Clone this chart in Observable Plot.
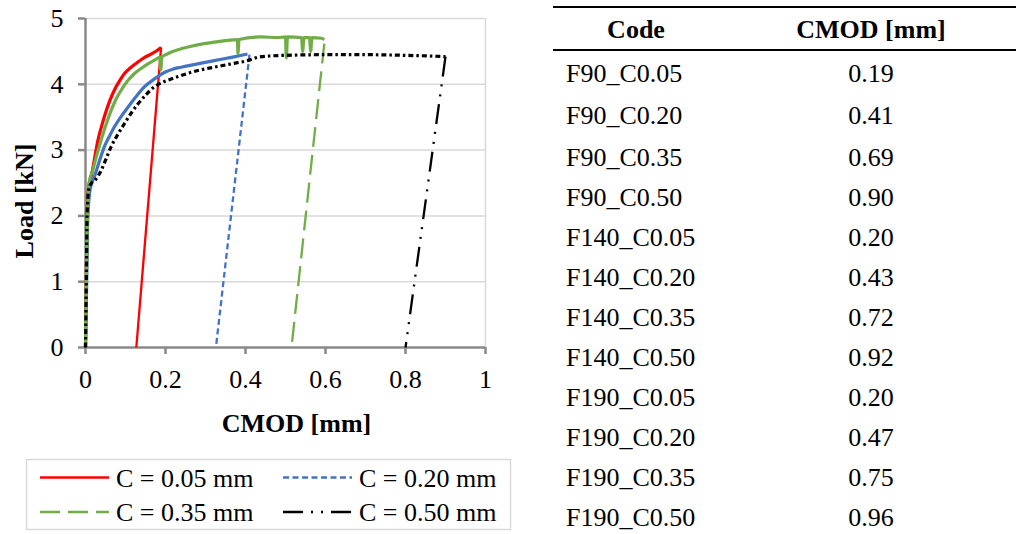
<!DOCTYPE html>
<html>
<head>
<meta charset="utf-8">
<script src="https://cdn.jsdelivr.net/npm/d3@7"></script>
<script src="https://cdn.jsdelivr.net/npm/@observablehq/plot@0.6"></script>
<style>
  html, body { margin: 0; padding: 0; background: #fff; }
  #page { position: relative; width: 1016px; height: 534px; overflow: hidden; font-family: "Liberation Serif", "Times New Roman", serif; color: #000; }
  #chart { position: absolute; left: 0; top: 0; }
  #legend { position: absolute; left: 0; top: 440px; }
  #table { position: absolute; left: 0; top: 0; width: 1016px; height: 534px; }
  .hline { position: absolute; background: #000; }
  .cell { position: absolute; font-size: 26px; line-height: 30px; white-space: nowrap; }
  .hdr { font-weight: bold; }
</style>
</head>
<body>
<div id="page">
  <div id="chart"></div>
  <div id="legend"></div>
  <div id="table"></div>
</div>
<script>
// ---------- DATA ----------
const xTicks = [0, 0.2, 0.4, 0.6, 0.8, 1];
const yTicks = [0, 1, 2, 3, 4, 5];
const seriesLabels = ["C = 0.05 mm", "C = 0.20 mm", "C = 0.35 mm", "C = 0.50 mm"];

// loading branches [CMOD mm, Load kN]
const loadC005 = [[0,0],[0.002,1],[0.004,2],[0.008,2.45],[0.014,2.59],[0.022,2.85],[0.031,3.15],[0.041,3.38],[0.052,3.6],[0.062,3.77],[0.072,3.91],[0.084,4.04],[0.097,4.16],[0.114,4.26],[0.131,4.34],[0.148,4.41],[0.164,4.46],[0.178,4.51],[0.189,4.56]];
const loadC020 = [[0,0],[0.003,1],[0.006,2],[0.012,2.42],[0.022,2.59],[0.034,2.82],[0.047,3.05],[0.059,3.2],[0.072,3.35],[0.088,3.5],[0.106,3.65],[0.126,3.81],[0.147,3.96],[0.172,4.08],[0.197,4.18],[0.218,4.23],[0.239,4.26],[0.28,4.31],[0.322,4.36],[0.365,4.41],[0.405,4.46]];
const loadC035 = [[0,0],[0.002,1],[0.005,2],[0.009,2.5],[0.018,2.69],[0.028,2.92],[0.039,3.15],[0.051,3.38],[0.064,3.6],[0.076,3.77],[0.089,3.91],[0.105,4.05],[0.122,4.16],[0.139,4.24],[0.156,4.31],[0.176,4.38],[0.186,4.41],[0.188,4.22],[0.191,4.42],[0.197,4.44],[0.218,4.5],[0.239,4.54],[0.28,4.6],[0.322,4.64],[0.38,4.68],[0.381,4.47],[0.384,4.68],[0.439,4.72],[0.48,4.71],[0.5,4.72],[0.502,4.4],[0.505,4.72],[0.54,4.71],[0.543,4.5],[0.546,4.71],[0.56,4.71],[0.563,4.5],[0.566,4.71],[0.59,4.7],[0.597,4.68]];
const loadC050 = [[0,0],[0.002,1],[0.004,2],[0.008,2.4],[0.014,2.49],[0.025,2.55],[0.039,2.69],[0.051,2.86],[0.064,3.05],[0.08,3.23],[0.097,3.4],[0.114,3.56],[0.131,3.7],[0.151,3.84],[0.172,3.96],[0.192,4.03],[0.214,4.08],[0.247,4.15],[0.281,4.21],[0.322,4.26],[0.364,4.31],[0.405,4.36],[0.43,4.41],[0.46,4.43],[0.5,4.44],[0.6,4.45],[0.7,4.45],[0.8,4.44],[0.86,4.43],[0.9,4.42]];

// unloading branches
const unloadC005 = [[0.189,4.56],[0.127,0]];
const unloadC020 = [[0.41,4.45],[0.326,0]];
const unloadC035 = [[0.597,4.62],[0.515,0]];
const unloadC050 = [[0.9,4.42],[0.8,0]];

// table
const tableHeader = ["Code", "CMOD [mm]"];
const tableCodes = ["F90_C0.05","F90_C0.20","F90_C0.35","F90_C0.50","F140_C0.05","F140_C0.20","F140_C0.35","F140_C0.50","F190_C0.05","F190_C0.20","F190_C0.35","F190_C0.50"];
const tableCmod = ["0.19","0.41","0.69","0.90","0.20","0.43","0.72","0.92","0.20","0.47","0.75","0.96"];

// ---------- STYLES ----------
const colors = ["#ff0000", "#4472c4", "#70ad47", "#000000"];
const dashes = [null, "6,3.5", "20,8", "20,8,2,8,2,8"];
const loadDashes = [null, null, null, "5,3,2.5,3"];
const loads = [loadC005, loadC020, loadC035, loadC050];
const unloads = [unloadC005, unloadC020, unloadC035, unloadC050];

const FONT = "Liberation Serif, Times New Roman, serif";
const axisGray = "#898989";
const gridGray = "#d9d9d9";

const lineMarks = [];
loads.forEach((pts, i) => {
  lineMarks.push(Plot.line(unloads[i], {x: d => d[0], y: d => d[1], stroke: colors[i], strokeWidth: 2.3, strokeDasharray: dashes[i], strokeLinecap: "butt"}));
});
loads.forEach((pts, i) => {
  lineMarks.push(Plot.line(pts, {x: d => d[0], y: d => d[1], stroke: colors[i], strokeWidth: 3.2, strokeDasharray: loadDashes[i], strokeLinecap: "butt", strokeLinejoin: "round", curve: "monotone-x"}));
});

const chart = Plot.plot({
  width: 520,
  height: 440,
  marginLeft: 85,
  marginRight: 35,
  marginTop: 18,
  marginBottom: 93,
  style: {fontFamily: FONT, fontSize: "26px", color: "#000", background: "transparent"},
  x: {domain: [0, 1]},
  y: {domain: [0, 5]},
  marks: [
    Plot.ruleY(yTicks.filter(d => d > 0), {stroke: gridGray, strokeWidth: 1.5}),
    Plot.ruleX([1], {stroke: gridGray, strokeWidth: 1.5}),
    Plot.ruleX([0], {stroke: axisGray, strokeWidth: 2.5}),
    Plot.ruleY([0], {stroke: axisGray, strokeWidth: 2.5}),
    Plot.axisX({ticks: xTicks, tickFormat: d => String(d), tickSize: 7, tickPadding: 15, stroke: axisGray, strokeWidth: 2.5, fill: "#000", fontSize: 26, label: null}),
    Plot.axisY({ticks: yTicks, tickFormat: d => String(d), tickSize: 7, tickPadding: 15, stroke: axisGray, strokeWidth: 2.5, fill: "#000", fontSize: 26, label: null}),
    ...lineMarks,
    Plot.text(["CMOD [mm]"], {frameAnchor: "bottom", dx: 11, dy: 76, fontWeight: "bold", fontSize: 26, fill: "#000", lineAnchor: "middle"}),
    Plot.text(["Load [kN]"], {frameAnchor: "left", dx: -61, dy: 18, rotate: -90, fontWeight: "bold", fontSize: 26, fill: "#000", lineAnchor: "middle", textAnchor: "middle"})
  ]
});
document.getElementById("chart").appendChild(chart);

// ---------- LEGEND ----------
const lg = d3.select("#legend").append("svg").attr("width", 520).attr("height", 94)
  .style("font-family", FONT);
lg.append("rect").attr("x", 26.5).attr("y", 19.5).attr("width", 484).attr("height", 70)
  .attr("fill", "#fff").attr("stroke", gridGray).attr("stroke-width", 1.5);
const legPos = [[40, 37.5], [283, 37.5], [40, 72], [283, 72]];
seriesLabels.forEach((lab, i) => {
  const [x0, yc] = legPos[i];
  lg.append("line").attr("x1", x0).attr("x2", x0 + 69).attr("y1", yc).attr("y2", yc)
    .attr("stroke", colors[i]).attr("stroke-width", 2.5)
    .attr("stroke-dasharray", dashes[i]);
  lg.append("text").attr("x", x0 + 76).attr("y", yc).attr("dy", "0.35em")
    .attr("font-size", 26).text(lab);
});

// ---------- TABLE ----------
const tbl = document.getElementById("table");
function hline(y, h) {
  const d = document.createElement("div");
  d.className = "hline";
  d.style.left = "553px"; d.style.width = "463px";
  d.style.top = y + "px"; d.style.height = h + "px";
  tbl.appendChild(d);
}
hline(5.5, 2.5);
hline(48.5, 2.5);
function cell(txt, cx, cy, cls, align) {
  const d = document.createElement("div");
  d.className = "cell " + (cls || "");
  d.textContent = txt;
  d.style.top = (cy - 15) + "px";
  if (align === "left") { d.style.left = cx + "px"; }
  else { d.style.left = (cx - 150) + "px"; d.style.width = "300px"; d.style.textAlign = "center"; }
  tbl.appendChild(d);
}
cell(tableHeader[0], 636, 30, "hdr");
cell(tableHeader[1], 871, 30, "hdr");
const rowY = [74, 116, 158, 198, 238, 278, 318, 358, 398, 438, 478, 518];
tableCodes.forEach((c, i) => {
  cell(c, 566, rowY[i], "", "left");
  cell(tableCmod[i], 871, rowY[i], "");
});
</script>
</body>
</html>
